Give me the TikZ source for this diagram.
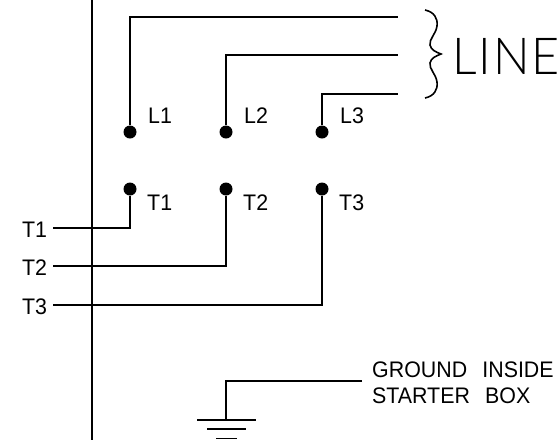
\documentclass[tikz,border=0pt]{standalone}
\usepackage{fontspec}
\setmainfont{Liberation Sans}
\newfontfamily\linefont[LetterSpace=4]{Lato Light}
\usepackage{tikz}
\usetikzlibrary{shapes.geometric, arrows}

\tikzset{
    wire/.style={draw, line width=1.7pt},
    term/.style={circle, fill=black, inner sep=0pt, minimum size=13pt},
    tag/.style={anchor=base west, inner sep=0pt, xscale=0.95, font=\fontsize{22.5}{26}\selectfont},
}

\begin{document}
\begin{tikzpicture}[x=1pt, y=-1pt]
        \useasboundingbox (0,0) rectangle (560,440);

        % terminals
        \node[term] (L1) at (130,132) {};
        \node[term] (L2) at (226,132) {};
        \node[term] (L3) at (322,132) {};
        \node[term] (T1) at (130,189) {};
        \node[term] (T2) at (226,189) {};
        \node[term] (T3) at (322,189) {};

        % free ends
        \coordinate (busTop) at (92,0);
        \coordinate (busEnd) at (92,440);
        \coordinate (L1end) at (398,17);
        \coordinate (L2end) at (398,55);
        \coordinate (L3end) at (398,94);
        \coordinate (T1end) at (53,228);
        \coordinate (T2end) at (53,266);
        \coordinate (T3end) at (53,305);
        \coordinate (gndEnd) at (362,381);
        \coordinate (gnd) at (226,420);

        \draw[wire] (busTop) -- (busEnd);

        % L -> line
        \draw[wire] (L1) |- (L1end);
        \draw[wire] (L2) |- (L2end);
        \draw[wire] (L3) |- (L3end);

        % T -> left
        \draw[wire] (T1) |- (T1end);
        \draw[wire] (T2) |- (T2end);
        \draw[wire] (T3) |- (T3end);

        % ground
        \draw[wire] (gndEnd) -| (gnd);
        \draw[wire] (197,420) -- (256,420);
        \draw[wire] (207,429) -- (246,429);
        \draw[wire] (216,438.5) -- (237,438.5);

        % brace
        \draw[line width=1.6pt] (425,10) .. controls (434,12) and (438,18) .. (437,26)
            .. controls (436,34) and (429,39) .. (430,45)
            .. controls (431,50) and (436,52) .. (441,54)
            .. controls (436,56) and (431,58) .. (430,63)
            .. controls (429,69) and (436,74) .. (437,82)
            .. controls (438,90) and (434,96) .. (425,98);

        \node[tag] (L1lab) at (148,123) {L1};
        \node[tag] (L2lab) at (244,123) {L2};
        \node[tag] (L3lab) at (340,123) {L3};
        \node[tag] (T1lab) at (147,210) {T1};
        \node[tag] (T2lab) at (243,210) {T2};
        \node[tag] (T3lab) at (339,210) {T3};
        \node[tag] (T1in) at (22,237) {T1};
        \node[tag] (T2in) at (22,275.5) {T2};
        \node[tag] (T3in) at (22,314) {T3};
        \node[tag] (lineLab) at (452,74) {\fontsize{51}{51}\linefont LINE};
        \node[tag] (gndTop) at (372,377) {GROUND\hspace{16pt}INSIDE};
        \node[tag] (gndBot) at (372,403) {STARTER\hspace{16pt}BOX};
    \end{tikzpicture}
\end{document}
